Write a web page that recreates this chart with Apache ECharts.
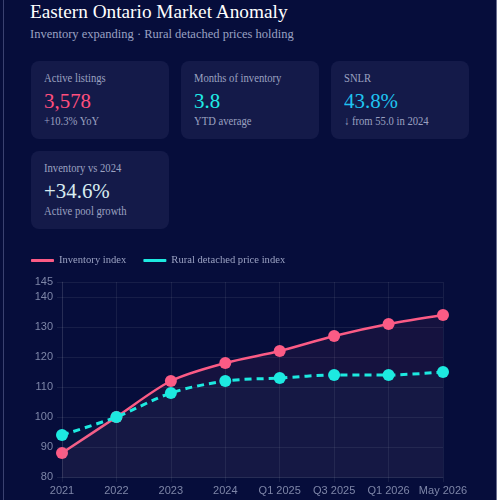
<!DOCTYPE html>
<html>
<head>
<meta charset="utf-8">
<script src="https://cdn.jsdelivr.net/npm/echarts@6/dist/echarts.min.js"></script>
<style>
    html, body { margin: 0; padding: 0; background: #ffffff; }
    .page {
        position: absolute; left: 0; top: 0; width: 497px; height: 500px;
        background: #060d3b; overflow: hidden;
        font-family: "Liberation Serif", "Times New Roman", serif;
    }
    .page:before {
        content: ""; position: absolute; left: 3px; top: 0; width: 1px; height: 500px; background: #3a4170;
    }
    .page:after {
        content: ""; position: absolute; right: 0; top: 0; width: 1px; height: 500px; background: #6a6f90;
    }
    h1 { position: absolute; left: 30px; top: 0; margin: 0; font-weight: normal; font-size: 19.3px; line-height: 24px; color: #ffffff; }
    .sub { position: absolute; left: 30px; top: 26px; font-size: 12.5px; line-height: 16px; color: #9aa1c2; }
    .card {
        position: absolute; width: 138px; height: 78px; border-radius: 8px; background: #141a49;
    }
    .card .lbl, .card .note, .card .val { transform-origin: left center; white-space: nowrap; }
    .card .lbl { position: absolute; left: 13px; top: 10px; font-size: 12px; color: #9ba1c0; transform: scaleX(0.885); }
    .card .val { position: absolute; left: 13px; top: 27px; font-size: 22px; line-height: 26px; transform: scaleX(0.95); }
    .card .note { position: absolute; left: 13px; top: 53px; font-size: 12px; color: #9ba1c0; transform: scaleX(0.885); }
    #chart { position: absolute; left: 0; top: 240px; width: 497px; height: 260px; }
</style>
</head>
<body>
<div class="page">
    <h1>Eastern Ontario Market Anomaly</h1>
    <div class="sub">Inventory expanding · Rural detached prices holding</div>

    <div class="card" style="left:31px; top:61px;">
        <div class="lbl">Active listings</div>
        <div class="val" style="color:#ff4f7e;">3,578</div>
        <div class="note">+10.3% YoY</div>
    </div>
    <div class="card" style="left:181px; top:61px;">
        <div class="lbl">Months of inventory</div>
        <div class="val" style="color:#20ece6;">3.8</div>
        <div class="note">YTD average</div>
    </div>
    <div class="card" style="left:331px; top:61px;">
        <div class="lbl">SNLR</div>
        <div class="val" style="color:#1fc3f0;">43.8%</div>
        <div class="note">↓ from 55.0 in 2024</div>
    </div>
    <div class="card" style="left:31px; top:151px;">
        <div class="lbl">Inventory vs 2024</div>
        <div class="val" style="color:#d8ecf0;">+34.6%</div>
        <div class="note">Active pool growth</div>
    </div>

    <div id="chart"></div>
</div>
<script>
    "use strict";

    var categories = ['2021', '2022', '2023', '2024', 'Q1 2025', 'Q3 2025', 'Q1 2026', 'May 2026'];
    var inventoryIndex = [88, 100, 112, 118, 122, 127, 131, 134];
    var ruralPriceIndex = [94, 100, 108, 112, 113, 114, 114, 115];

    var pink = '#fb5b85',
        cyan = '#1de9e0',
        gridColor = 'rgba(255,255,255,0.07)',
        labelColor = '#7e86a8';

    var myChart = echarts.init(document.getElementById('chart'));
    myChart.setOption({
        animation: false,
        legend: {
            left: 26,
            top: 10,
            icon: 'roundRect',
            itemWidth: 23,
            itemHeight: 3,
            itemGap: 17,
            textStyle: {
                color: '#9aa1c2',
                fontFamily: 'Liberation Serif',
                fontSize: 10.6
            },
            data: ['Inventory index', 'Rural detached price index']
        },
        grid: {
            left: 62,
            right: 54,
            top: 42,
            bottom: 23,
            containLabel: false
        },
        xAxis: {
            type: 'category',
            boundaryGap: false,
            data: categories,
            axisLine: { lineStyle: { color: gridColor } },
            axisTick: { show: true, length: 5, lineStyle: { color: gridColor } },
            splitLine: { show: true, lineStyle: { color: gridColor } },
            axisLabel: {
                color: labelColor,
                fontFamily: 'Liberation Sans',
                fontSize: 11,
                margin: 8,
                interval: 0
            }
        },
        yAxis: {
            type: 'value',
            min: 80,
            max: 145,
            interval: 10,
            axisLine: { show: true, lineStyle: { color: gridColor } },
            axisTick: { show: true, length: 5, lineStyle: { color: gridColor } },
            splitLine: { lineStyle: { color: gridColor } },
            axisLabel: {
                color: labelColor,
                fontFamily: 'Liberation Sans',
                fontSize: 11,
                margin: 9,
                showMaxLabel: true
            }
        },
        series: [
            {
                name: 'Inventory index',
                type: 'line',
                data: inventoryIndex,
                smooth: 0.3,
                symbol: 'circle',
                symbolSize: 12,
                itemStyle: { color: pink },
                lineStyle: { color: pink, width: 2.5 },
                areaStyle: { color: 'rgba(251,91,133,0.09)', origin: 'start' },
                z: 3
            },
            {
                name: 'Rural detached price index',
                type: 'line',
                data: ruralPriceIndex,
                smooth: 0.3,
                symbol: 'circle',
                symbolSize: 12,
                itemStyle: { color: cyan },
                lineStyle: { color: cyan, width: 3, type: [7, 5] },
                areaStyle: { color: 'rgba(29,233,224,0.05)', origin: 'start' },
                z: 4
            }
        ]
    });

    window.onresize = function () {
        myChart.resize();
    };
</script>
</body>
</html>
